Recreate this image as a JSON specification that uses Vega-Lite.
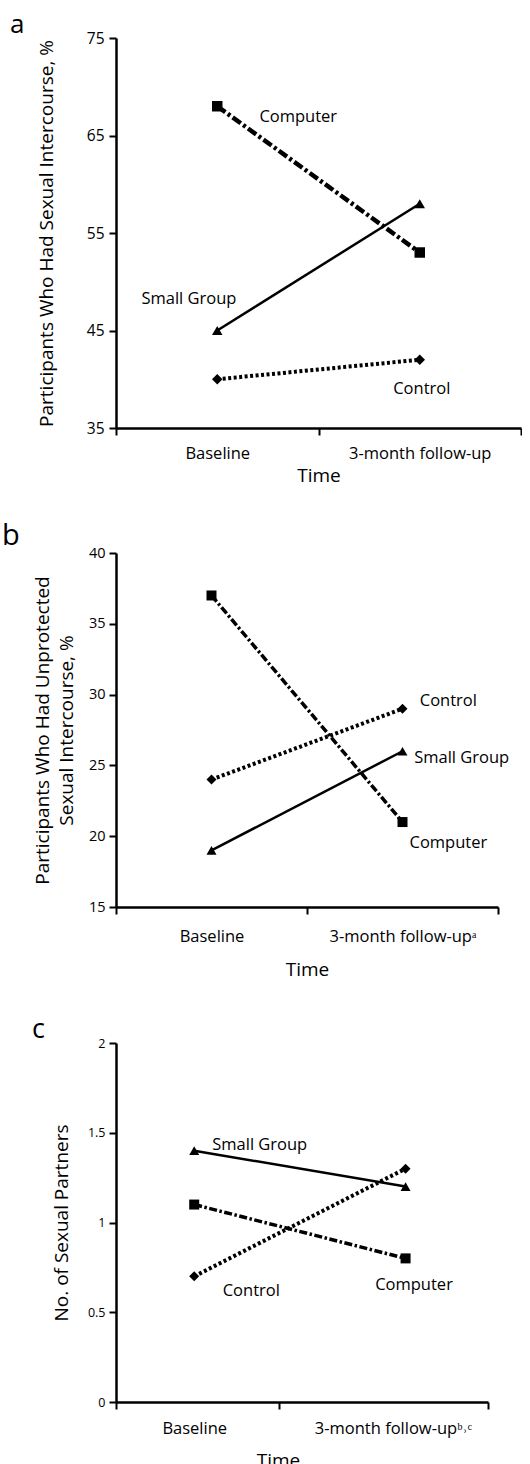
{
  "$schema": "https://vega.github.io/schema/vega-lite/v6.json",
  "background": "white",
  "padding": {"left": 2, "top": 12, "right": 0, "bottom": 0},
  "spacing": 36,
  "config": {
    "font": "Open Sans",
    "view": {"stroke": null},
    "axis": {
      "domainColor": "black", "domainWidth": 2.5, "tickColor": "black", "tickWidth": 2, "tickSize": 7,
      "labelColor": "black", "titleColor": "black", "grid": false, "titleFontWeight": "normal",
      "labelFont": "Open Sans", "titleFont": "Open Sans"
    },
    "title": {"color": "black", "fontWeight": "normal", "font": "Open Sans", "baseline": "alphabetic"}
  },
  "datasets": {
    "a": [
      {"group": "Computer", "t": 1, "v": 68}, {"group": "Computer", "t": 2, "v": 53},
      {"group": "Small Group", "t": 1, "v": 45}, {"group": "Small Group", "t": 2, "v": 58},
      {"group": "Control", "t": 1, "v": 40}, {"group": "Control", "t": 2, "v": 42}
    ],
    "a_lab": [
      {"group": "Computer", "t": 1.40, "v": 66.9},
      {"group": "Small Group", "t": 0.86, "v": 48.2},
      {"group": "Control", "t": 2.01, "v": 39.0}
    ],
    "b": [
      {"group": "Computer", "t": 1, "v": 37}, {"group": "Computer", "t": 2, "v": 21},
      {"group": "Small Group", "t": 1, "v": 19}, {"group": "Small Group", "t": 2, "v": 26},
      {"group": "Control", "t": 1, "v": 24}, {"group": "Control", "t": 2, "v": 29}
    ],
    "b_lab": [
      {"group": "Control", "t": 2.24, "v": 29.55},
      {"group": "Small Group", "t": 2.31, "v": 25.5},
      {"group": "Computer", "t": 2.24, "v": 19.5}
    ],
    "c": [
      {"group": "Computer", "t": 1, "v": 1.1}, {"group": "Computer", "t": 2, "v": 0.8},
      {"group": "Small Group", "t": 1, "v": 1.4}, {"group": "Small Group", "t": 2, "v": 1.2},
      {"group": "Control", "t": 1, "v": 0.7}, {"group": "Control", "t": 2, "v": 1.3}
    ],
    "c_lab": [
      {"group": "Small Group", "t": 1.31, "v": 1.43},
      {"group": "Control", "t": 1.27, "v": 0.62},
      {"group": "Computer", "t": 2.04, "v": 0.65}
    ]
  },
  "vconcat": [
    {
      "width": 405, "height": 390,
      "title": {"text": "a", "anchor": "start", "frame": "group", "dx": -106, "dy": 13, "fontSize": 26, "offset": 6},
      "encoding": {
        "x": {"field": "t", "type": "quantitative", "scale": {"domain": [0.5, 2.5], "nice": false, "zero": false},
          "axis": {"values": [0.5, 1, 1.5, 2, 2.5], "title": "Time", "titleFontSize": 19, "titlePadding": 5,
            "labelExpr": "datum.value == 1 ? 'Baseline' : datum.value == 2 ? '3-month follow-up' : ''",
            "tickOpacity": {"condition": {"test": "datum.value == 1 || datum.value == 2", "value": 0}, "value": 1},
            "labelFontSize": 16.5, "labelOverlap": false, "labelFlush": false, "labelBound": false, "labelPadding": 10}},
        "y": {"field": "v", "type": "quantitative", "scale": {"domain": [35, 75], "nice": false, "zero": false},
          "axis": {"values": [35, 45, 55, 65, 75], "title": "Participants Who Had Sexual Intercourse, %",
            "titleFontSize": 19, "titlePadding": 30, "labelFontSize": 15.5, "labelPadding": 5}}
      },
      "layer": [
        {"data": {"name": "a"}, "transform": [{"filter": "datum.group == 'Computer'"}],
          "mark": {"type": "line", "color": "black", "strokeWidth": 4.5, "strokeDash": [10, 3, 3, 3]}},
        {"data": {"name": "a"}, "transform": [{"filter": "datum.group == 'Small Group'"}],
          "mark": {"type": "line", "color": "black", "strokeWidth": 2.5}},
        {"data": {"name": "a"}, "transform": [{"filter": "datum.group == 'Control'"}],
          "mark": {"type": "line", "color": "black", "strokeWidth": 4, "strokeDash": [3, 2.5]}},
        {"data": {"name": "a"}, "mark": {"type": "point", "filled": true, "color": "black", "opacity": 1, "size": 110},
          "encoding": {"shape": {"field": "group", "scale": {"domain": ["Computer", "Small Group", "Control"], "range": ["square", "triangle-up", "diamond"]}, "legend": null}}},
        {"data": {"name": "a_lab"}, "mark": {"type": "text", "fontSize": 16.5, "color": "black", "baseline": "middle"},
          "encoding": {"text": {"field": "group"}}}
      ]
    },
    {
      "width": 382, "height": 354,
      "title": {"text": "b", "anchor": "start", "frame": "group", "dx": -114, "dy": 14, "fontSize": 29, "offset": 8},
      "encoding": {
        "x": {"field": "t", "type": "quantitative", "scale": {"domain": [0.5, 2.5], "nice": false, "zero": false},
          "axis": {"values": [0.5, 1, 1.5, 2, 2.5], "title": "Time", "titleFontSize": 19, "titlePadding": 16,
            "labelExpr": "datum.value == 1 ? 'Baseline' : datum.value == 2 ? '3-month follow-upᵃ' : ''",
            "tickOpacity": {"condition": {"test": "datum.value == 1 || datum.value == 2", "value": 0}, "value": 1},
            "labelFontSize": 16.5, "labelOverlap": false, "labelFlush": false, "labelBound": false, "labelPadding": 14}},
        "y": {"field": "v", "type": "quantitative", "scale": {"domain": [15, 40], "nice": false, "zero": false},
          "axis": {"values": [15, 20, 25, 30, 35, 40], "title": ["Participants Who Had Unprotected", "Sexual Intercourse, %"],
            "titleFontSize": 19, "titlePadding": 12, "titleLineHeight": 24, "labelFontSize": 14.5, "labelPadding": 4}}
      },
      "layer": [
        {"data": {"name": "b"}, "transform": [{"filter": "datum.group == 'Computer'"}],
          "mark": {"type": "line", "color": "black", "strokeWidth": 3.5, "strokeDash": [8, 2.5, 2.5, 2.5]}},
        {"data": {"name": "b"}, "transform": [{"filter": "datum.group == 'Small Group'"}],
          "mark": {"type": "line", "color": "black", "strokeWidth": 2.5}},
        {"data": {"name": "b"}, "transform": [{"filter": "datum.group == 'Control'"}],
          "mark": {"type": "line", "color": "black", "strokeWidth": 4, "strokeDash": [3, 2.5]}},
        {"data": {"name": "b"}, "mark": {"type": "point", "filled": true, "color": "black", "opacity": 1, "size": 100},
          "encoding": {"shape": {"field": "group", "scale": {"domain": ["Computer", "Small Group", "Control"], "range": ["square", "triangle-up", "diamond"]}, "legend": null}}},
        {"data": {"name": "b_lab"}, "mark": {"type": "text", "fontSize": 16.5, "color": "black", "baseline": "middle"},
          "encoding": {"text": {"field": "group"}}}
      ]
    },
    {
      "width": 372, "height": 359,
      "title": {"text": "c", "anchor": "start", "frame": "group", "dx": -84, "dy": 15, "fontSize": 27, "offset": 8},
      "encoding": {
        "x": {"field": "t", "type": "quantitative", "scale": {"domain": [0.63, 2.39], "nice": false, "zero": false},
          "axis": {"values": [0.63, 1, 1.4, 1.94, 2.39], "title": "Time", "titleFontSize": 19, "titlePadding": 15, "titleX": 162,
            "labelExpr": "datum.value == 1 ? 'Baseline' : datum.value == 1.94 ? '3-month follow-upᵇ˒ᶜ' : ''",
            "tickOpacity": {"condition": {"test": "datum.value == 1 || datum.value == 1.94", "value": 0}, "value": 1},
            "labelFontSize": 16.5, "labelOverlap": false, "labelFlush": false, "labelBound": false, "labelPadding": 11}},
        "y": {"field": "v", "type": "quantitative", "scale": {"domain": [0, 2], "nice": false, "zero": false},
          "axis": {"values": [0, 0.5, 1, 1.5, 2], "title": "No. of Sexual Partners", "labelExpr": "'' + datum.value",
            "titleFontSize": 19, "titlePadding": 16, "labelFontSize": 12.5, "labelPadding": 4}}
      },
      "layer": [
        {"data": {"name": "c"}, "transform": [{"filter": "datum.group == 'Computer'"}],
          "mark": {"type": "line", "color": "black", "strokeWidth": 3.5, "strokeDash": [8, 2.5, 2.5, 2.5]}},
        {"data": {"name": "c"}, "transform": [{"filter": "datum.group == 'Small Group'"}],
          "mark": {"type": "line", "color": "black", "strokeWidth": 2.5}},
        {"data": {"name": "c"}, "transform": [{"filter": "datum.group == 'Control'"}],
          "mark": {"type": "line", "color": "black", "strokeWidth": 4, "strokeDash": [3, 2.5]}},
        {"data": {"name": "c"}, "mark": {"type": "point", "filled": true, "color": "black", "opacity": 1, "size": 100},
          "encoding": {"shape": {"field": "group", "scale": {"domain": ["Computer", "Small Group", "Control"], "range": ["square", "triangle-up", "diamond"]}, "legend": null}}},
        {"data": {"name": "c_lab"}, "mark": {"type": "text", "fontSize": 16.5, "color": "black", "baseline": "middle"},
          "encoding": {"text": {"field": "group"}}}
      ]
    }
  ]
}
